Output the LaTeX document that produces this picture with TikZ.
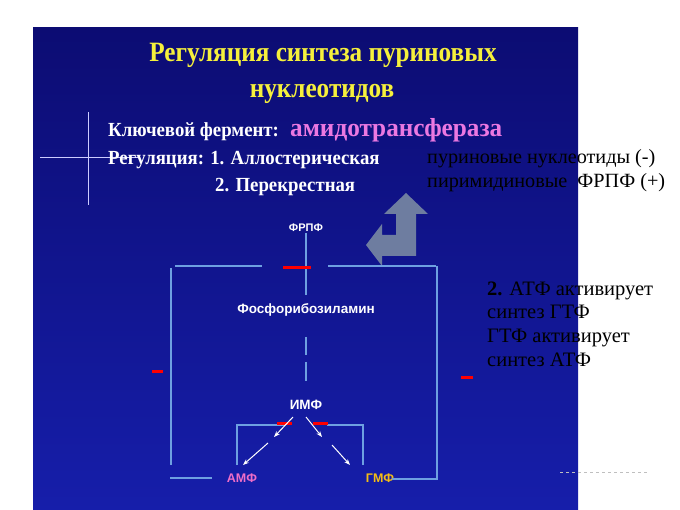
\documentclass[tikz,border=0pt]{standalone}
\usepackage{fontspec}
\setmainfont{Liberation Serif}
\newfontfamily\sansb{Liberation Sans}
\usetikzlibrary{arrows.meta}
\definecolor{slidetop}{RGB}{12,12,115}
\definecolor{slidebot}{RGB}{22,30,170}
\definecolor{lineblue}{RGB}{110,160,225}
\definecolor{titley}{RGB}{245,240,60}
\definecolor{pinkish}{RGB}{235,120,225}
\definecolor{amfpink}{RGB}{240,110,200}
\definecolor{gmfor}{RGB}{245,190,20}
\definecolor{greyarrow}{RGB}{110,125,160}
\tikzset{
  bl/.style={lineblue, line width=2.4pt},
  inh/.style={red, line width=3pt},
  lab/.style={white, font=\sansb\bfseries\fontsize{11}{13}\selectfont, inner sep=1pt},
  blk/.style={black, font=\fontsize{20.2}{22}\selectfont, anchor=base west, inner sep=0pt},
  rt/.style={black, font=\fontsize{20.5}{22}\selectfont, anchor=base west, inner sep=0pt},
  wt/.style={white, font=\bfseries\fontsize{20}{22}\selectfont, anchor=base west, inner sep=0pt},
  ttl/.style={titley, font=\bfseries\fontsize{28}{30}\selectfont, anchor=base, inner sep=0pt},
  warr/.style={white, line width=1pt, -{Stealth[length=6pt]}},
}
\begin{document}
\begin{tikzpicture}[x=1pt,y=-1pt]
\useasboundingbox (0,0) rectangle (680,510);
\fill[white] (0,0) rectangle (680,510);
\shade[top color=slidetop, bottom color=slidebot] (33,28) rectangle (578,510);
% sparkle
\draw[white!80!blue, line width=0.6pt] (88,112) -- (88,205);
\draw[white!80!blue, line width=0.6pt] (40,157) -- (140,157);
% title
\node[ttl] (t1) at (323,62) {\scalebox{0.9}[1]{Регуляция синтеза пуриновых}};
\node[ttl] (t2) at (322,98) {\scalebox{0.9}[1]{нуклеотидов}};
\node[wt] (k1) at (108,137) {\scalebox{0.94}[1]{Ключевой фермент:}};
\node[pinkish, font=\bfseries\fontsize{26}{28}\selectfont, anchor=base west, inner sep=0pt] (k2) at (290,137) {\scalebox{0.97}[1]{амидотрансфераза}};
\node[wt] (r1) at (108,165) {\scalebox{0.94}[1]{Регуляция: 1. Аллостерическая}};
\node[wt] (r2) at (215,192) {\scalebox{0.94}[1]{2. Перекрестная}};
\node[blk] (p1) at (427,164) {пуриновые нуклеотиды (-)};
\node[blk] (p2) at (427,188) {пиримидиновые\ \ ФРПФ (+)};
% grey bent arrow
\fill[greyarrow] (396,214) -- (384,214) -- (406,193) -- (428,214) -- (416,214) -- (416,256) -- (382,256) -- (382,266) -- (366,245) -- (382,224) -- (382,235) -- (396,235) -- cycle;
% diagram
\node[lab] (frpf) at (306,228) {ФРПФ};
\node[lab, font=\sansb\bfseries\fontsize{13.5}{15}\selectfont] (fra) at (306,310) {Фосфорибозиламин};
\node[lab, font=\sansb\bfseries\fontsize{13.5}{15}\selectfont] (imf) at (306,405) {ИМФ};
\node[lab, text=amfpink, font=\sansb\bfseries\fontsize{12.5}{14}\selectfont] (amf) at (242,478) {АМФ};
\node[lab, text=gmfor, font=\sansb\bfseries\fontsize{12.5}{14}\selectfont] (gmf) at (380,478) {ГМФ};
\draw[lineblue, line width=1.2pt] (frpf.south) -- (306,295);
\draw[lineblue, line width=1.2pt] (306,337) -- (306,355) (306,362) -- (306,381);
\draw[bl] (175,266) -- (262,266) (328,266) -- (436,266);
\draw[bl] (171,268) -- (171,465);
\draw[bl] (437,266) -- (437,479) -- (392,479);
\draw[bl] (170,478) -- (212,478);
\draw[bl] (237,465) -- (237,425) -- (285,425) (327,425) -- (363,425) -- (363,465);
\draw[inh] (283,268) -- (311,268);
\draw[inh] (152,372) -- (163,372);
\draw[inh] (461,378) -- (473,378);
\draw[inh] (277,423) -- (292,423) (313,423) -- (328,423);
\draw[warr] (293,417) -- (274,437);
\draw[warr] (268,443) -- (243,465);
\draw[warr] (306,417) -- (322,437);
\draw[warr] (332,445) -- (350,465);
% right text
\node[rt] (s1) at (487,296) {\textbf{2.} АТФ активирует};
\node[rt] (s2) at (487,319) {синтез ГТФ};
\node[rt] (s3) at (487,343) {ГТФ активирует};
\node[rt] (s4) at (487,367) {синтез АТФ};
\draw[gray!50, dashed, line width=0.6pt] (560,472) -- (648,472);
\end{tikzpicture}
\end{document}
